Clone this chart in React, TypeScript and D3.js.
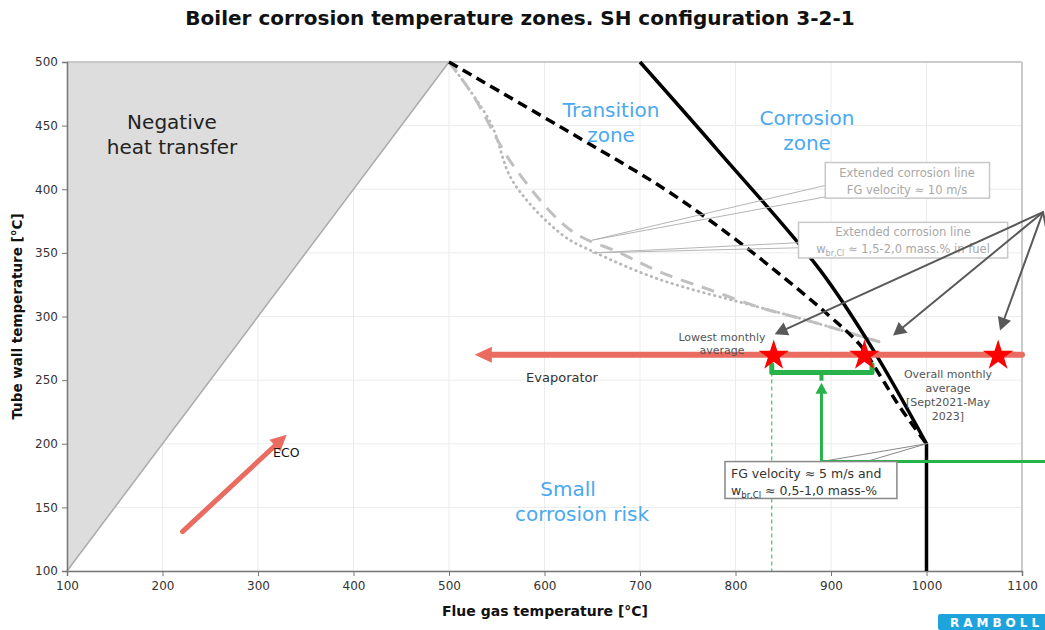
import { useEffect, useRef } from 'react';
import * as d3 from 'd3';

// axis ticks
const xTicks = [100, 200, 300, 400, 500, 600, 700, 800, 900, 1000, 1100];
const yTicks = [100, 150, 200, 250, 300, 350, 400, 450, 500];

// zone boundaries [flue gas °C, tube wall °C]
const negativeZone = [[100, 100], [100, 500], [500, 500]];
const corrosionLine = [[700, 500], [781, 431], [888, 337], [944, 274], [1000, 200]];
const corrosionFoot = [[1000, 200], [1000, 100]];
const transitionLine = [[500, 500], [637, 440], [724, 401], [794, 364], [850, 331], [899, 300], [930, 278], [951, 254], [972, 229], [1000, 200]];
const extVelocityLine = [[500, 500], [525, 474], [567, 419], [627, 368], [679, 350], [721, 335], [773, 321], [826, 307], [875, 297], [951, 280]];
const extChlorineLine = [[500, 500], [543, 453], [567, 406], [619, 364], [651, 351], [721, 329], [826, 307], [875, 297], [951, 280]];

// monthly averages on the evaporator line
const evaporatorTemp = 270;
const evaporatorRange = [1100, 527];
const starTemps = [840, 935, 1075];
const ecoArrow = [[221, 131], [330, 207]];

// green range bracket
const bracketRange = [838, 943];
const bracketTemp = 256;
const bracketTop = 262;
const fgPoint = [890, 186];
const fgArrowTip = 248;
const fgLineEnd = 1125;

// pointer arrows from outside the plot
const pointerOrigin = [1122, 382];
const pointerTips = [[841, 286], [965, 285], [1077, 289]];

function App() {
  const svgRef = useRef(null);

  useEffect(() => {
    const W = 1045;
    const H = 630;
    const svg = d3.select(svgRef.current);
    svg.selectAll('*').remove();
    svg.attr('width', W).attr('height', H);

    const font = 'DejaVu Sans, Verdana, sans-serif';

    const x = d3.scaleLinear().domain([100, 1100]).range([67, 1022]);
    const y = d3.scaleLinear().domain([100, 500]).range([571, 62]);

    const line = d3.line().x(d => x(d[0])).y(d => y(d[1]));
    const curve = d3.line().x(d => x(d[0])).y(d => y(d[1])).curve(d3.curveCatmullRom.alpha(0.5));

    // arrow drawn in pixel space
    function arrow(g, x1, y1, x2, y2, color, width, headLen, headHalf) {
      const ang = Math.atan2(y2 - y1, x2 - x1);
      const bx = x2 - headLen * Math.cos(ang);
      const by = y2 - headLen * Math.sin(ang);
      g.append('line')
        .attr('x1', x1).attr('y1', y1)
        .attr('x2', bx).attr('y2', by)
        .attr('stroke', color)
        .attr('stroke-width', width)
        .attr('stroke-linecap', 'round');
      const px = -Math.sin(ang) * headHalf;
      const py = Math.cos(ang) * headHalf;
      g.append('polygon')
        .attr('points', `${x2},${y2} ${bx + px},${by + py} ${bx - px},${by - py}`)
        .attr('fill', color);
    }

    // Title
    svg.append('text')
      .attr('x', 520)
      .attr('y', 25)
      .attr('text-anchor', 'middle')
      .style('font-family', font)
      .style('font-size', '20px')
      .style('font-weight', 'bold')
      .attr('fill', '#111')
      .text('Boiler corrosion temperature zones. SH configuration 3-2-1');

    // Grid
    const grid = svg.append('g');
    xTicks.forEach(t => {
      grid.append('line')
        .attr('x1', x(t)).attr('x2', x(t))
        .attr('y1', y(100)).attr('y2', y(500))
        .attr('stroke', '#ececec');
    });
    yTicks.forEach(t => {
      grid.append('line')
        .attr('x1', x(100)).attr('x2', x(1100))
        .attr('y1', y(t)).attr('y2', y(t))
        .attr('stroke', '#ececec');
    });

    // Negative heat transfer zone
    svg.append('path')
      .attr('d', line(negativeZone) + 'Z')
      .attr('fill', '#dddddd')
      .attr('stroke', 'none');
    svg.append('path')
      .attr('d', line([negativeZone[0], negativeZone[2]]))
      .attr('stroke', '#aaaaaa')
      .attr('stroke-width', 1.5)
      .attr('fill', 'none');

    // Plot frame
    svg.append('line')
      .attr('x1', x(100)).attr('x2', x(1100))
      .attr('y1', y(500)).attr('y2', y(500))
      .attr('stroke', '#bdbdbd').attr('stroke-width', 1.5);
    svg.append('line')
      .attr('x1', x(1100)).attr('x2', x(1100))
      .attr('y1', y(500)).attr('y2', y(100))
      .attr('stroke', '#bdbdbd').attr('stroke-width', 1.5);

    // Axes
    const xAxis = svg.append('g')
      .attr('transform', `translate(0,${y(100)})`)
      .call(d3.axisBottom(x).tickValues(xTicks).tickSize(5).tickFormat(d3.format('d')));
    const yAxis = svg.append('g')
      .attr('transform', `translate(${x(100)},0)`)
      .call(d3.axisLeft(y).tickValues(yTicks).tickSize(5).tickFormat(d3.format('d')));
    [xAxis, yAxis].forEach(a => {
      a.selectAll('path').attr('stroke', '#777').attr('stroke-width', 1.5);
      a.selectAll('line').attr('stroke', '#777');
      a.selectAll('text')
        .style('font-family', font)
        .style('font-size', '12px')
        .attr('fill', '#333');
    });
    xAxis.selectAll('text').attr('dy', '0.95em');
    yAxis.selectAll('text').attr('x', -9);

    svg.append('text')
      .attr('x', 545)
      .attr('y', 616)
      .attr('text-anchor', 'middle')
      .style('font-family', font)
      .style('font-size', '14px')
      .style('font-weight', 'bold')
      .attr('fill', '#111')
      .text('Flue gas temperature [°C]');
    svg.append('text')
      .attr('transform', `translate(22,${(y(100) + y(500)) / 2}) rotate(-90)`)
      .attr('text-anchor', 'middle')
      .style('font-family', font)
      .style('font-size', '13.5px')
      .style('font-weight', 'bold')
      .attr('fill', '#111')
      .text('Tube wall temperature [°C]');

    // Extended corrosion lines (grey)
    svg.append('path')
      .attr('d', curve(extChlorineLine))
      .attr('fill', 'none')
      .attr('stroke', '#b8b8b8')
      .attr('stroke-width', 2.8)
      .attr('stroke-dasharray', '0.5,5')
      .attr('stroke-linecap', 'round');
    svg.append('path')
      .attr('d', curve(extVelocityLine))
      .attr('fill', 'none')
      .attr('stroke', '#c0c0c0')
      .attr('stroke-width', 3)
      .attr('stroke-dasharray', '13,9');

    // Transition / corrosion boundaries
    svg.append('path')
      .attr('d', curve(transitionLine))
      .attr('fill', 'none')
      .attr('stroke', '#000')
      .attr('stroke-width', 3.5)
      .attr('stroke-dasharray', '10,6');
    svg.append('path')
      .attr('d', curve(corrosionLine))
      .attr('fill', 'none')
      .attr('stroke', '#000')
      .attr('stroke-width', 3.5);
    svg.append('path')
      .attr('d', line(corrosionFoot))
      .attr('fill', 'none')
      .attr('stroke', '#000')
      .attr('stroke-width', 3.5);

    // Callout wedges for the annotation boxes
    const callouts = svg.append('g')
      .attr('fill', 'none')
      .attr('stroke', '#b5b5b5')
      .attr('stroke-width', 1);
    const tip1 = [x(650), y(360)];
    const tip2 = [x(650), y(350)];
    callouts.append('path').attr('d', `M${x(894)},${y(403)}L${tip1[0]},${tip1[1]}L${x(894)},${y(394)}`);
    callouts.append('path').attr('d', `M${x(866)},${y(358)}L${tip2[0]},${tip2[1]}L${x(866)},${y(354)}`);
    callouts.append('path')
      .attr('stroke', '#888')
      .attr('d', `M${x(890)},${y(186)}L${x(1000)},${y(200)}L${x(937)},${y(186)}`);

    // Annotation boxes
    function box(x0, x1, y0, y1, stroke) {
      svg.append('rect')
        .attr('x', x(x0)).attr('y', y(y0))
        .attr('width', x(x1) - x(x0))
        .attr('height', y(y1) - y(y0))
        .attr('fill', '#fff')
        .attr('stroke', stroke)
        .attr('stroke-width', 1.5);
    }
    box(894, 1066, 421, 393, '#c8c8c8');
    box(866, 1085, 374, 346, '#c8c8c8');

    const boxText = svg.append('g')
      .style('font-family', font)
      .style('font-size', '11.5px')
      .attr('fill', '#a8a8a8')
      .attr('text-anchor', 'middle');
    boxText.append('text').attr('x', 907).attr('y', 177).text('Extended corrosion line');
    boxText.append('text').attr('x', 907).attr('y', 194).text('FG velocity ≈ 10 m/s');
    boxText.append('text').attr('x', 903).attr('y', 236).text('Extended corrosion line');
    const w2 = boxText.append('text').attr('x', 903).attr('y', 253);
    w2.append('tspan').text('w');
    w2.append('tspan').attr('dy', 3).style('font-size', '8px').text('br,Cl');
    w2.append('tspan').attr('dy', -3).text(' ≈ 1,5-2,0 mass.% in fuel');

    // Evaporator line
    arrow(svg.append('g'), x(evaporatorRange[0]), y(evaporatorTemp), x(evaporatorRange[1]), y(evaporatorTemp), '#ea6b60', 6, 17, 8);

    // ECO arrow
    arrow(svg.append('g'), x(ecoArrow[0][0]), y(ecoArrow[0][1]), x(ecoArrow[1][0]), y(ecoArrow[1][1]), '#ea6b60', 5, 16, 8);

    // Green bracket and FG arrow
    const green = '#27b24a';
    svg.append('line')
      .attr('x1', x(bracketRange[0])).attr('x2', x(bracketRange[0]))
      .attr('y1', y(bracketTemp)).attr('y2', y(100))
      .attr('stroke', green)
      .attr('stroke-width', 1)
      .attr('stroke-dasharray', '4,3');
    svg.append('path')
      .attr('d', line([[bracketRange[0], bracketTop], [bracketRange[0], bracketTemp], [bracketRange[1], bracketTemp], [bracketRange[1], bracketTop]]))
      .attr('fill', 'none')
      .attr('stroke', green)
      .attr('stroke-width', 5)
      .attr('stroke-linejoin', 'round')
      .attr('stroke-linecap', 'round');
    svg.append('line')
      .attr('x1', x(fgPoint[0])).attr('x2', x(fgPoint[0]))
      .attr('y1', y(bracketTemp)).attr('y2', y(fgArrowTip) - 2)
      .attr('stroke', green)
      .attr('stroke-width', 4);
    arrow(svg.append('g'), x(fgPoint[0]), y(fgPoint[1]), x(fgPoint[0]), y(fgArrowTip), green, 3, 11, 6);
    svg.append('line')
      .attr('x1', x(fgPoint[0])).attr('x2', x(fgLineEnd))
      .attr('y1', y(fgPoint[1])).attr('y2', y(fgPoint[1]))
      .attr('stroke', green)
      .attr('stroke-width', 3);

    // FG velocity box
    box(789, 969, 186, 157, '#888');
    const fg = svg.append('g')
      .style('font-family', font)
      .style('font-size', '12.5px')
      .attr('fill', '#333');
    fg.append('text').attr('x', 731).attr('y', 478).text('FG velocity ≈ 5 m/s and');
    const w1 = fg.append('text').attr('x', 731).attr('y', 495);
    w1.append('tspan').text('w');
    w1.append('tspan').attr('dy', 3).style('font-size', '8.5px').text('br,Cl');
    w1.append('tspan').attr('dy', -3).text(' ≈ 0,5-1,0 mass-%');

    // Pointer arrows
    const pointers = svg.append('g');
    pointerTips.forEach(t => {
      arrow(pointers, x(pointerOrigin[0]), y(pointerOrigin[1]), x(t[0]), y(t[1]), '#595959', 2, 13, 7);
    });
    pointers.append('line')
      .attr('x1', x(pointerOrigin[0])).attr('y1', y(pointerOrigin[1]))
      .attr('x2', x(pointerOrigin[0]) + 8).attr('y2', y(pointerOrigin[1]) + 40)
      .attr('stroke', '#595959')
      .attr('stroke-width', 2);

    // Stars
    svg.selectAll('path.star')
      .data(starTemps)
      .join('path')
      .attr('class', 'star')
      .attr('transform', d => `translate(${x(d)},${y(evaporatorTemp) + 1})`)
      .attr('d', d3.symbol(d3.symbolStar, 290))
      .attr('fill', '#ff0000');

    // Text labels
    const small = svg.append('g')
      .style('font-family', font)
      .style('font-size', '11px')
      .attr('fill', '#555')
      .attr('text-anchor', 'middle');
    small.append('text').attr('x', 722).attr('y', 341).text('Lowest monthly');
    small.append('text').attr('x', 722).attr('y', 354).text('average');
    ['Overall monthly', 'average', '[Sept2021-May', '2023]'].forEach((s, i) => {
      small.append('text').attr('x', 948).attr('y', 378 + i * 14).text(s);
    });

    svg.append('text')
      .attr('x', 562).attr('y', 382)
      .attr('text-anchor', 'middle')
      .style('font-family', font)
      .style('font-size', '13px')
      .attr('fill', '#333')
      .text('Evaporator');
    svg.append('text')
      .attr('x', 273).attr('y', 457)
      .style('font-family', font)
      .style('font-size', '12.5px')
      .attr('fill', '#111')
      .text('ECO');

    const zone = svg.append('g')
      .style('font-family', font)
      .style('font-size', '20px')
      .attr('text-anchor', 'middle');
    const blue = '#4aa9f0';
    zone.append('text').attr('x', 172).attr('y', 129).attr('fill', '#222').text('Negative');
    zone.append('text').attr('x', 172).attr('y', 154).attr('fill', '#222').text('heat transfer');
    zone.append('text').attr('x', 611).attr('y', 117).attr('fill', blue).text('Transition');
    zone.append('text').attr('x', 611).attr('y', 142).attr('fill', blue).text('zone');
    zone.append('text').attr('x', 807).attr('y', 125).attr('fill', blue).text('Corrosion');
    zone.append('text').attr('x', 807).attr('y', 150).attr('fill', blue).text('zone');
    zone.append('text').attr('x', 568).attr('y', 496).attr('fill', blue).text('Small');
    zone.append('text').attr('x', 582).attr('y', 521).attr('fill', blue).text('corrosion risk');

    // Logo
    svg.append('rect')
      .attr('x', 938).attr('y', 614)
      .attr('width', 110).attr('height', 16)
      .attr('rx', 2)
      .attr('fill', '#1ea3dd');
    svg.append('text')
      .attr('x', 950).attr('y', 627)
      .style('font-family', font)
      .style('font-size', '12px')
      .style('font-weight', 'bold')
      .style('letter-spacing', '4px')
      .attr('fill', '#fff')
      .text('RAMBOLL');
  }, []);

  return (
    <div style={{ position: 'absolute', left: 0, top: 0 }}>
      <svg ref={svgRef}></svg>
    </div>
  );
}

export default App;
